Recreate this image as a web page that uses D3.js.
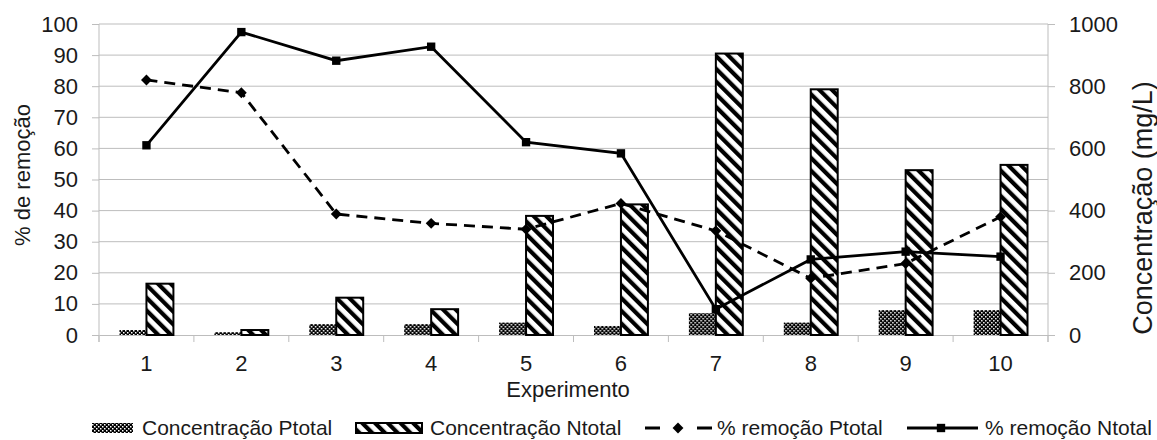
<!DOCTYPE html>
<html>
<head>
<meta charset="utf-8">
<script src="https://cdn.jsdelivr.net/npm/d3@7"></script>
<style>
  body { margin: 0; background: #fff; }
  svg text { font-family: "Liberation Sans", Arial, sans-serif; fill: #1a1a1a; }
</style>
</head>
<body>
<svg id="chart"></svg>
<script>
let width = 1157;
let height = 440;

// data
let experimentos = ["1", "2", "3", "4", "5", "6", "7", "8", "9", "10"];
let concPtotal = [16, 9, 35, 35, 40, 29, 70, 40, 80, 80];
let concNtotal = [165, 16, 120, 83, 383, 420, 905, 790, 530, 547];
let remPtotal = [82, 77.9, 38.9, 35.9, 34, 42.3, 33.5, 18.2, 23, 38];
let remNtotal = [61, 97.4, 88.2, 92.7, 62, 58.4, 8.3, 24.3, 26.8, 25.2];
let leftTicks = [0, 10, 20, 30, 40, 50, 60, 70, 80, 90, 100];
let rightTicks = [0, 200, 400, 600, 800, 1000];

let margin = {left: 99, right: 109, top: 24, bottom: 105};
let plotW = width - margin.left - margin.right;
let plotH = height - margin.top - margin.bottom;

let svg = d3.select("#chart")
    .attr("width", width)
    .attr("height", height);

let defs = svg.append("defs");

// pattern for Ptotal bars (small checker)
let pP = defs.append("pattern")
    .attr("id", "patP")
    .attr("patternUnits", "userSpaceOnUse")
    .attr("width", 4).attr("height", 4);
pP.append("rect").attr("width", 4).attr("height", 4).attr("fill", "#000");
pP.append("rect").attr("x", 0).attr("y", 0).attr("width", 1.5).attr("height", 1.5).attr("fill", "#fff");
pP.append("rect").attr("x", 2).attr("y", 2).attr("width", 1.5).attr("height", 1.5).attr("fill", "#fff");

// pattern for Ntotal bars (wide diagonal stripes)
let pN = defs.append("pattern")
    .attr("id", "patN")
    .attr("patternUnits", "userSpaceOnUse")
    .attr("width", 9).attr("height", 9)
    .attr("patternTransform", "rotate(-45)");
pN.append("rect").attr("width", 9).attr("height", 9).attr("fill", "#fff");
pN.append("rect").attr("x", 0).attr("y", 0).attr("width", 4.2).attr("height", 9).attr("fill", "#000");

let g = svg.append("g")
    .attr("transform", "translate(" + margin.left + "," + margin.top + ")");

let x = d3.scaleBand()
    .domain(experimentos)
    .range([0, plotW])
    .padding(0);

let x1 = d3.scaleBand()
    .domain(["P", "N"])
    .range([0, x.bandwidth()])
    .paddingInner(0)
    .paddingOuter(0.76);

let yLeft = d3.scaleLinear().domain([0, 100]).range([plotH, 0]);
let yRight = d3.scaleLinear().domain([0, 1000]).range([plotH, 0]);

// gridlines
g.append("g")
    .selectAll("line")
    .data(leftTicks.filter(d => d > 0))
    .enter().append("line")
    .attr("x1", 0).attr("x2", plotW)
    .attr("y1", d => yLeft(d)).attr("y2", d => yLeft(d))
    .attr("stroke", "#bdbdbd")
    .attr("stroke-width", 1);

// left axis
let axL = g.append("g")
    .call(d3.axisLeft(yLeft).tickValues(leftTicks).tickSize(7).tickPadding(14));
axL.selectAll("text").style("font-size", "22px");

// right axis
let axR = g.append("g")
    .attr("transform", "translate(" + plotW + ",0)")
    .call(d3.axisRight(yRight).tickValues(rightTicks).tickFormat(d3.format("d")).tickSize(7).tickPadding(14));
axR.selectAll("text").style("font-size", "22px");

// bottom axis: ticks at band boundaries
let axB = g.append("g")
    .attr("transform", "translate(0," + plotH + ")")
    .call(d3.axisBottom(x).tickSize(0).tickPadding(20));
axB.selectAll("text").style("font-size", "22px");
axB.append("g")
    .selectAll("line")
    .data(d3.range(experimentos.length + 1))
    .enter().append("line")
    .attr("x1", d => d * x.step()).attr("x2", d => d * x.step())
    .attr("y1", 0).attr("y2", 7)
    .attr("stroke", "#bdbdbd");

[axL, axR, axB].forEach(function (a) {
    a.select(".domain").attr("stroke", "#bdbdbd");
    a.selectAll(".tick line").attr("stroke", "#bdbdbd");
});
axL.select(".domain").attr("d", "M0," + (plotH + 7) + "V0");
axR.select(".domain").attr("d", "M0," + (plotH + 7) + "V0");

// bars
let groups = g.append("g")
    .selectAll("g")
    .data(experimentos)
    .enter().append("g")
    .attr("transform", d => "translate(" + x(d) + ",0)");

groups.append("rect")
    .attr("x", x1("P"))
    .attr("width", x1.bandwidth())
    .attr("y", (d, i) => yRight(concPtotal[i]))
    .attr("height", (d, i) => plotH - yRight(concPtotal[i]))
    .attr("fill", "url(#patP)");

groups.append("rect")
    .attr("x", x1("N"))
    .attr("width", x1.bandwidth())
    .attr("y", (d, i) => yRight(concNtotal[i]))
    .attr("height", (d, i) => plotH - yRight(concNtotal[i]))
    .attr("fill", "url(#patN)")
    .attr("stroke", "#000")
    .attr("stroke-width", 2);

// lines
let cx = d => x(d) + x.bandwidth() / 2;

let lineP = d3.line()
    .x((d, i) => cx(experimentos[i]))
    .y(d => yLeft(d));

g.append("path")
    .datum(remPtotal)
    .attr("d", lineP)
    .attr("fill", "none")
    .attr("stroke", "#000")
    .attr("stroke-width", 2.8)
    .attr("stroke-dasharray", "11,7");

g.append("path")
    .datum(remNtotal)
    .attr("d", lineP)
    .attr("fill", "none")
    .attr("stroke", "#000")
    .attr("stroke-width", 2.8);

let diamond = d3.symbol().type(d3.symbolDiamond2).size(75);
let square = d3.symbol().type(d3.symbolSquare).size(70);

g.append("g").selectAll("path")
    .data(remPtotal)
    .enter().append("path")
    .attr("d", diamond)
    .attr("transform", (d, i) => "translate(" + cx(experimentos[i]) + "," + yLeft(d) + ")")
    .attr("fill", "#000");

g.append("g").selectAll("path")
    .data(remNtotal)
    .enter().append("path")
    .attr("d", square)
    .attr("transform", (d, i) => "translate(" + cx(experimentos[i]) + "," + yLeft(d) + ")")
    .attr("fill", "#000");

// axis titles
svg.append("text")
    .attr("x", 568).attr("y", 397)
    .attr("text-anchor", "middle")
    .style("font-size", "22px")
    .text("Experimento");

svg.append("text")
    .attr("transform", "translate(30,175) rotate(-90)")
    .attr("text-anchor", "middle")
    .style("font-size", "22px")
    .text("% de remoção");

svg.append("text")
    .attr("transform", "translate(1152,208) rotate(-90)")
    .attr("text-anchor", "middle")
    .style("font-size", "27px")
    .text("Concentração (mg/L)");

// legend
let legY = 428;
let leg = svg.append("g");

leg.append("rect").attr("x", 92).attr("y", legY - 5).attr("width", 41).attr("height", 10)
    .attr("fill", "url(#patP)");
leg.append("text").attr("x", 142).attr("y", legY + 7).style("font-size", "21px")
    .text("Concentração Ptotal");

leg.append("rect").attr("x", 356).attr("y", legY - 5).attr("width", 66).attr("height", 10)
    .attr("fill", "url(#patN)").attr("stroke", "#000").attr("stroke-width", 2);
leg.append("text").attr("x", 430).attr("y", legY + 7).style("font-size", "21px")
    .text("Concentração Ntotal");

leg.append("line").attr("x1", 645).attr("x2", 712).attr("y1", legY).attr("y2", legY)
    .attr("stroke", "#000").attr("stroke-width", 2.8).attr("stroke-dasharray", "15,37");
leg.append("path").attr("d", diamond).attr("transform", "translate(678," + legY + ")");
leg.append("text").attr("x", 717).attr("y", legY + 7).style("font-size", "21px")
    .text("% remoção Ptotal");

leg.append("line").attr("x1", 907).attr("x2", 978).attr("y1", legY).attr("y2", legY)
    .attr("stroke", "#000").attr("stroke-width", 2.8);
leg.append("path").attr("d", square).attr("transform", "translate(941," + legY + ")");
leg.append("text").attr("x", 985).attr("y", legY + 7).style("font-size", "21px")
    .text("% remoção Ntotal");
</script>
</body>
</html>
